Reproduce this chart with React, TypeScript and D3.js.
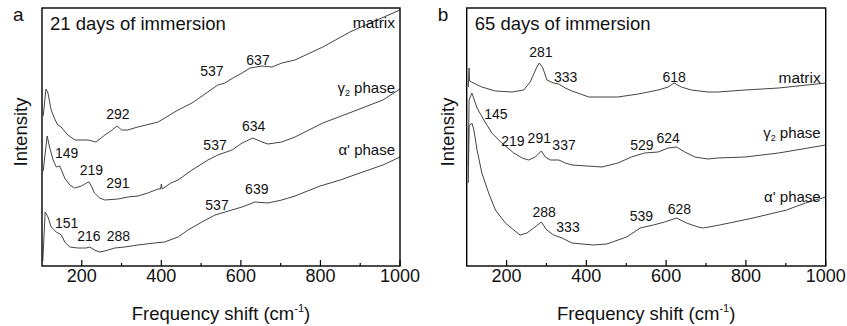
import React from 'react';
import * as d3 from 'd3';

// Raman spectra, intensity in arbitrary units
const aMatrix: [number, number][] = [
  [103, 150], [110, 177], [115, 173], [123, 156], [133, 146], [140, 141], [148, 139], [165, 131],
  [183, 126], [216, 126], [236, 124], [258, 131], [273, 135], [289, 140], [300, 136], [315, 136],
  [341, 139], [392, 144], [442, 156], [477, 163], [517, 174], [542, 181], [560, 183], [580, 188],
  [603, 193], [623, 198], [653, 200], [678, 199], [703, 203], [736, 206], [806, 219], [874, 234],
  [942, 246], [1000, 256],
];
const aGamma: [number, number][] = [
  [103, 95], [113, 130], [119, 119], [128, 106], [136, 99], [144, 100], [149, 96], [157, 88],
  [170, 81], [182, 78], [199, 80], [212, 83], [218, 84], [224, 80], [232, 73], [245, 68],
  [258, 66], [291, 67], [316, 69], [341, 70], [366, 73], [392, 77], [398, 77], [400, 82],
  [402, 77], [424, 83], [442, 86], [477, 96], [517, 106], [542, 111], [578, 116], [603, 123],
  [630, 128], [653, 124], [668, 122], [703, 124], [736, 129], [806, 143], [892, 156], [957, 166],
  [1000, 177],
];
const aAlpha: [number, number][] = [
  [102, 5], [108, 54], [115, 49], [123, 39], [136, 34], [149, 31], [157, 24], [170, 19],
  [190, 18], [211, 18], [220, 19], [232, 16], [245, 14], [258, 15], [283, 18], [308, 19],
  [341, 21], [383, 23], [408, 24], [442, 29], [467, 36], [502, 44], [535, 51], [560, 54],
  [603, 59], [635, 64], [668, 63], [703, 66], [736, 70], [799, 80], [850, 86], [892, 92],
  [957, 101], [1000, 109],
];

const bMatrix: [number, number][] = [
  [104, 179], [106, 198], [107, 185], [112, 184], [138, 179], [172, 175], [214, 174], [243, 176],
  [259, 184], [276, 199], [282, 203], [291, 198], [301, 186], [318, 183], [331, 182], [347, 178],
  [364, 175], [406, 169], [439, 169], [479, 169], [530, 172], [580, 176], [605, 179], [620, 183],
  [638, 179], [663, 176], [705, 174], [729, 174], [798, 176], [882, 178], [1000, 183],
];
const bGamma: [number, number][] = [
  [104, 100], [106, 166], [113, 173], [126, 158], [143, 146], [163, 133], [188, 123], [218, 113],
  [239, 108], [255, 106], [272, 109], [287, 115], [297, 109], [310, 106], [331, 106], [347, 103],
  [364, 101], [439, 99], [479, 103], [513, 109], [546, 113], [580, 114], [605, 118], [626, 119],
  [647, 114], [672, 109], [705, 107], [729, 108], [798, 109], [882, 113], [1000, 121],
];
const bAlpha: [number, number][] = [
  [104, 83], [106, 140], [113, 143], [118, 136], [126, 116], [138, 93], [155, 73], [172, 56],
  [197, 43], [218, 36], [234, 31], [251, 33], [268, 38], [287, 44], [301, 36], [318, 31],
  [339, 28], [364, 23], [417, 21], [451, 22], [501, 29], [535, 38], [568, 41], [596, 44],
  [626, 48], [651, 43], [680, 39], [693, 38], [734, 41], [818, 48], [902, 56], [949, 63],
  [1000, 69],
];

// peak annotations: label, wavenumber, intensity level
const aPeaks: [string, number, number][] = [
  ['292', 291, 147], ['537', 527, 190], ['637', 643, 201],
  ['149', 162, 108], ['219', 224, 91], ['291', 291, 78], ['537', 535, 116], ['634', 632, 135],
  ['151', 162, 38], ['216', 218, 25], ['288', 292, 25], ['537', 540, 56], ['639', 640, 72],
];
const bPeaks: [string, number, number][] = [
  ['281', 286, 209], ['333', 348, 184], ['618', 620, 184],
  ['145', 173, 147], ['219', 216, 120], ['291', 282, 123], ['337', 344, 116], ['529', 539, 116], ['624', 605, 123],
  ['288', 294, 49], ['333', 354, 34], ['539', 538, 45], ['628', 633, 52],
];
const aSeriesLabels: [string, number][] = [['matrix', 238], ['gamma', 173], ['alpha', 111]];
const bSeriesLabels: [string, number][] = [['matrix', 183], ['gamma', 128], ['alpha', 64]];

const majorTicks = [200, 400, 600, 800, 1000];
const minorTicks = [300, 500, 700, 900];

const FONT = '"Liberation Sans", Arial, Helvetica, sans-serif';

function SeriesLabel({kind, x, y}: {kind: string; x: number; y: number}) {
  if (kind === 'matrix') {
    return <text x={x} y={y} textAnchor="end" fontSize={15.5}>matrix</text>;
  }
  if (kind === 'gamma') {
    return (
      <text x={x} y={y} textAnchor="end" fontSize={15}>
        γ<tspan fontSize={9} dy={3}>2</tspan><tspan dy={-3}> phase</tspan>
      </text>
    );
  }
  return <text x={x} y={y} textAnchor="end" fontSize={15}>α' phase</text>;
}

function Panel({left, right, letter, title, series, peaks, seriesLabels, yLabelX}: any) {
  const top = 8;
  const bottom = 266;
  const x = d3.scaleLinear().domain([100, 1000]).range([left, right]);
  const y = d3.scaleLinear().domain([0, 258]).range([bottom, top]);
  const line = d3.line<[number, number]>()
    .x(d => x(d[0]))
    .y(d => y(d[1]));
  const mid = (left + right) / 2;

  return (
    <g fontFamily={FONT} fill="#111">
      <text x={left - 29} y={21} fontSize={19}>{letter}</text>
      <text x={left + 8} y={29.5} fontSize={18.5}>{title}</text>
      <text transform={`translate(${yLabelX},${132}) rotate(-90)`} textAnchor="middle" fontSize={18.5}>Intensity</text>

      {series.map((s: [number, number][], i: number) => (
        <path key={i} d={line(s) ?? ''} fill="none" stroke="#444" strokeWidth={1} />
      ))}

      {peaks.map((p: [string, number, number], i: number) => (
        <text key={i} x={x(p[1])} y={y(p[2])} textAnchor="middle" fontSize={14}>{p[0]}</text>
      ))}

      {seriesLabels.map((s: [string, number], i: number) => (
        <SeriesLabel key={i} kind={s[0]} x={right - 5} y={y(s[1])} />
      ))}

      <rect x={left} y={top} width={right - left} height={bottom - top} fill="none" stroke="#000" strokeWidth={1.4} />

      {majorTicks.map(t => (
        <g key={t}>
          <line x1={x(t)} x2={x(t)} y1={bottom} y2={bottom - 6} stroke="#000" strokeWidth={1.2} />
          <text x={x(t)} y={282} textAnchor="middle" fontSize={18}>{t}</text>
        </g>
      ))}
      {minorTicks.map(t => (
        <line key={t} x1={x(t)} x2={x(t)} y1={bottom} y2={bottom - 3} stroke="#000" strokeWidth={1.2} />
      ))}

      <text x={mid} y={320} textAnchor="middle" fontSize={18.5}>
        Frequency shift (cm<tspan fontSize={11} dy={-8}>-1</tspan><tspan dy={8}>)</tspan>
      </text>
    </g>
  );
}

export default function App() {
  return (
    <div style={{position: 'absolute', left: 0, top: 0}}>
      <svg width={847} height={326} style={{display: 'block', background: '#fff'}}>
        <Panel left={42} right={400} letter="a" title="21 days of immersion"
               series={[aMatrix, aGamma, aAlpha]} peaks={aPeaks} seriesLabels={aSeriesLabels} yLabelX={27} />
        <Panel left={466.7} right={825.7} letter="b" title="65 days of immersion"
               series={[bMatrix, bGamma, bAlpha]} peaks={bPeaks} seriesLabels={bSeriesLabels} yLabelX={454} />
      </svg>
    </div>
  );
}
